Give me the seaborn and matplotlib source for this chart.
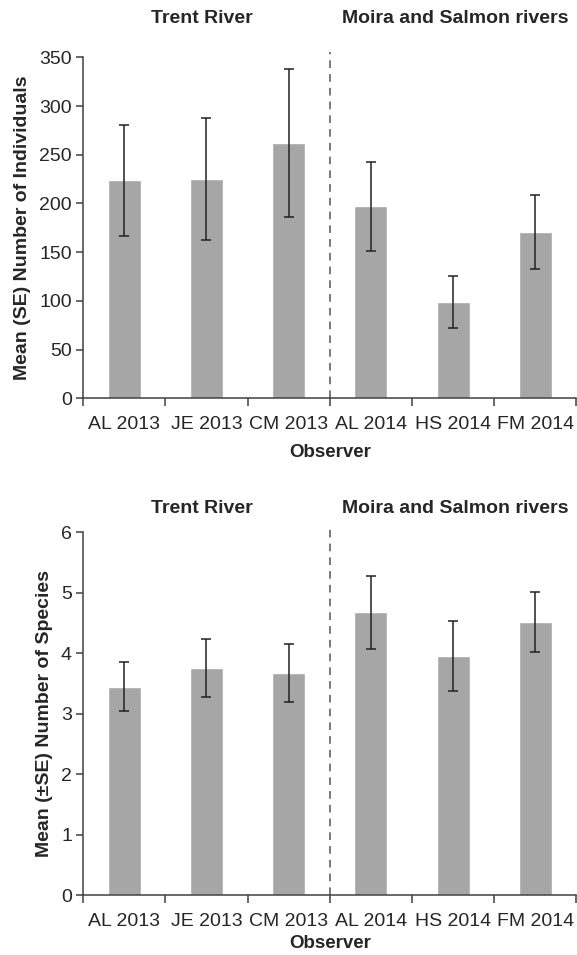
import matplotlib
matplotlib.use("Agg")
import matplotlib.pyplot as plt
import seaborn as sns
import numpy as np
import pandas as pd

observers = ["AL 2013", "JE 2013", "CM 2013", "AL 2014", "HS 2014", "FM 2014"]
individuals_mean = [224, 225, 262, 197, 99, 171]
individuals_se = [57, 63, 75.5, 45.5, 26.5, 38]
species_mean = [3.45, 3.76, 3.67, 4.68, 3.95, 4.52]
species_se = [0.40, 0.48, 0.48, 0.60, 0.58, 0.50]
group_labels = ["Trent River", "Moira and Salmon rivers"]

sns.set_style("white")
plt.rcParams["font.family"] = ["Liberation Sans", "DejaVu Sans"]

fig = plt.figure(figsize=(5.77, 9.55), dpi=100)
ax1 = fig.add_axes([0.144, 0.583, 0.855, 0.357])
ax2 = fig.add_axes([0.144, 0.0625, 0.855, 0.380])

bar_color = "#a6a6a6"
axis_color = "#404040"
tick_fs = 14
label_fs = 13.5
title_fs = 14


def draw_panel(ax, means, ses, ylim, yticks, ylabel, title_y, xlabel_pad):
    df = pd.DataFrame({"Observer": observers, "value": means})
    sns.barplot(data=df, x="Observer", y="value", color=bar_color,
                width=0.4, saturation=1, ax=ax, errorbar=None)
    pos = np.arange(len(observers))
    ax.errorbar(pos, means, yerr=ses, fmt="none", ecolor="#222222",
                elinewidth=1.1, capsize=3.5, capthick=1.1)
    ax.set_xlim(-0.5, len(observers) - 0.5)
    ax.set_ylim(*ylim)
    ax.set_yticks(yticks)
    ax.tick_params(axis="y", labelsize=tick_fs, length=5, width=1.1,
                   color=axis_color, direction="out", left=True, pad=3)
    ax.set_xticks(pos)
    ax.set_xticklabels(observers)
    ax.set_xticks(np.arange(-0.5, len(observers), 1.0), minor=True)
    ax.tick_params(axis="x", which="major", length=0, labelsize=tick_fs, pad=12.5)
    ax.tick_params(axis="x", which="minor", length=6, width=1.1,
                   color=axis_color, direction="out", bottom=True)
    for side in ["top", "right"]:
        ax.spines[side].set_visible(False)
    for side in ["left", "bottom"]:
        ax.spines[side].set_color(axis_color)
        ax.spines[side].set_linewidth(1.1)
    ax.set_ylabel(ylabel, fontsize=14, fontweight="bold", labelpad=6)
    ax.set_xlabel("Observer", fontsize=label_fs, fontweight="bold",
                  labelpad=xlabel_pad)
    ax.axvline(2.5, ymin=0, ymax=1.015, color="#555555", lw=1.1,
               ls=(0, (5, 4)), clip_on=False)
    ax.text(0.95, title_y, group_labels[0], transform=ax.get_xaxis_transform(),
            ha="center", va="center", fontsize=title_fs, fontweight="bold")
    ax.text(4.03, title_y, group_labels[1], transform=ax.get_xaxis_transform(),
            ha="center", va="center", fontsize=title_fs, fontweight="bold")


draw_panel(ax1, individuals_mean, individuals_se, (0, 350),
           np.arange(0, 351, 50), "Mean (SE) Number of Individuals", 1.114, 8)
draw_panel(ax2, species_mean, species_se, (0, 6),
           np.arange(0, 7, 1), "Mean (±SE) Number of Species", 1.066, 4)

fig.savefig("out.png", dpi=100, facecolor="white")
